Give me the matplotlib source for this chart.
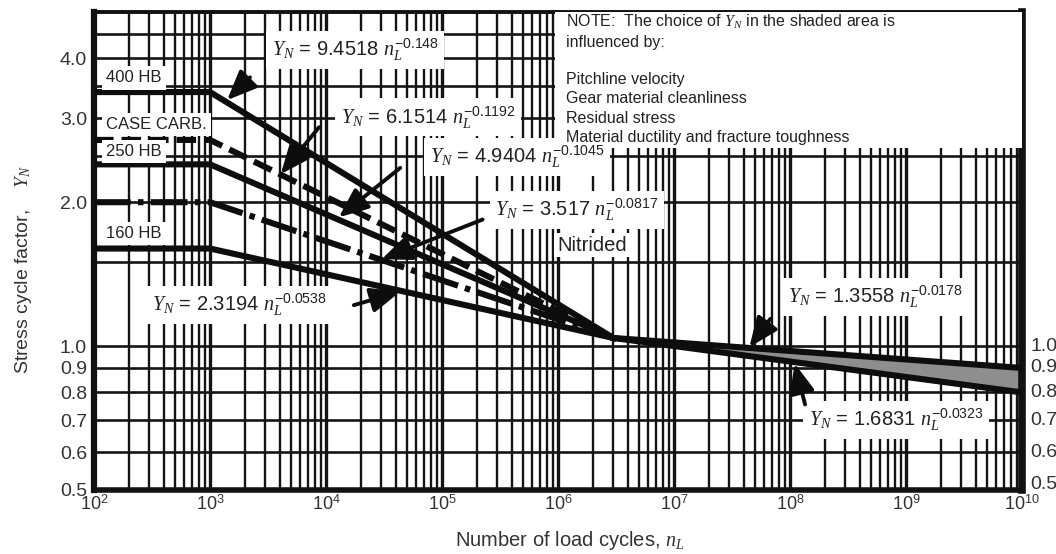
import matplotlib
matplotlib.use("Agg")
import matplotlib.pyplot as plt
import matplotlib.ticker as mticker
import matplotlib.transforms as mtransforms
from matplotlib.patches import Rectangle

plt.rcParams['font.family'] = ['Liberation Sans', 'DejaVu Sans']
plt.rcParams['mathtext.fontset'] = 'custom'
plt.rcParams['mathtext.rm'] = 'Liberation Sans'
plt.rcParams['mathtext.it'] = 'Liberation Serif:italic'
plt.rcParams['mathtext.bf'] = 'Liberation Sans:bold'

# ---------------- data ----------------
cycles = [1e2, 1e3, 3e6]
yn_400hb = [3.40, 3.40, 1.04]
yn_case_carb = [2.70, 2.70, 1.04]
yn_250hb = [2.40, 2.40, 1.04]
yn_nitrided = [2.00, 2.00, 1.04]
yn_160hb = [1.60, 1.60, 1.04]

tail_cycles = [3e6, 1e10]
tail_upper = [1.04, 0.90]
tail_lower = [1.04, 0.80]

material_labels = ['400 HB', 'CASE CARB.', '250 HB', '160 HB']
material_label_y = [3.64, 2.91, 2.55, 1.72]

equations = [
    r'$Y_N$ = 9.4518 $n_L^{-0.148}$',
    r'$Y_N$ = 6.1514 $n_L^{-0.1192}$',
    r'$Y_N$ = 4.9404 $n_L^{-0.1045}$',
    r'$Y_N$ = 3.517 $n_L^{-0.0817}$',
    r'$Y_N$ = 2.3194 $n_L^{-0.0538}$',
    r'$Y_N$ = 1.3558 $n_L^{-0.0178}$',
    r'$Y_N$ = 1.6831 $n_L^{-0.0323}$',
]

x_major_ticks = [1e2, 1e3, 1e4, 1e5, 1e6, 1e7, 1e8, 1e9, 1e10]
x_tick_labels = [r'$10^{2}$', r'$10^{3}$', r'$10^{4}$', r'$10^{5}$', r'$10^{6}$',
                 r'$10^{7}$', r'$10^{8}$', r'$10^{9}$', r'$10^{10}$']
y_major_ticks = [0.5, 0.6, 0.7, 0.8, 0.9, 1.0, 2.0, 3.0, 4.0]
y_minor_ticks = [1.5, 2.5, 3.5, 4.5]
right_ticks = [0.5, 0.6, 0.7, 0.8, 0.9, 1.0]

note_lines = [
    r'NOTE:  The choice of $Y_N$ in the shaded area is',
    'influenced by:',
    'Pitchline velocity',
    'Gear material cleanliness',
    'Residual stress',
    'Material ductility and fracture toughness',
]

# ---------------- figure ----------------
fig = plt.figure(figsize=(10.56, 5.54), dpi=100)
ax = fig.add_axes([94/1056, 64/554, 928/1056, 478/554])
ax.set_xscale('log')
ax.set_yscale('log')
ax.set_xlim(1e2, 1e10)
ax.set_ylim(0.5, 5.0)

gc = '#141414'
ax.xaxis.set_major_locator(mticker.FixedLocator(x_major_ticks))
ax.xaxis.set_major_formatter(mticker.FixedFormatter(x_tick_labels))
ax.xaxis.set_minor_locator(mticker.LogLocator(base=10, subs=range(2, 10), numticks=100))
ax.xaxis.set_minor_formatter(mticker.NullFormatter())
ax.yaxis.set_major_locator(mticker.FixedLocator(y_major_ticks))
ax.yaxis.set_major_formatter(mticker.FixedFormatter([f'{v:.1f}' for v in y_major_ticks]))
ax.yaxis.set_minor_locator(mticker.FixedLocator(y_minor_ticks))
ax.yaxis.set_minor_formatter(mticker.NullFormatter())
ax.set_axisbelow(True)
ax.grid(which='major', axis='x', color=gc, lw=2.4)
ax.grid(which='minor', axis='x', color=gc, lw=1.7)
ax.grid(which='both', axis='y', color=gc, lw=1.9)
ax.tick_params(axis='x', which='both', length=0, labelsize=13, labelcolor='#333333', pad=3)
ax.tick_params(axis='y', which='both', length=0, labelsize=14, labelcolor='#333333', pad=5)

for side, lw in [('left', 4.5), ('bottom', 4.0), ('right', 5.5), ('top', 2.8)]:
    ax.spines[side].set_linewidth(lw)
    ax.spines[side].set_color('#111111')

# shaded region
ax.fill_between(tail_cycles, tail_lower, tail_upper, color='#8e8e8e', lw=0, zorder=2)

lc = '#0d0d0d'
clw = 4.4
ax.plot(cycles, yn_400hb, color=lc, lw=clw, zorder=3)
ax.plot(cycles, yn_case_carb, color=lc, lw=clw, zorder=3, ls=(0, (3.2, 1.3)))
ax.plot(cycles, yn_250hb, color=lc, lw=clw, zorder=3)
ax.plot(cycles, yn_nitrided, color=lc, lw=clw, zorder=3, ls=(0, (6, 1.2, 0.9, 1.2)))
ax.plot(cycles, yn_160hb, color=lc, lw=clw, zorder=3)
ax.plot(tail_cycles, tail_upper, color=lc, lw=clw, zorder=3)
ax.plot(tail_cycles, tail_lower, color=lc, lw=clw, zorder=3)

# material labels
for lab, yv in zip(material_labels, material_label_y):
    ax.text(127, yv, lab, fontsize=12, color='#222222', ha='left', va='center', zorder=4,
            bbox=dict(fc='white', ec='none', pad=3))

# NOTE box
ax.add_patch(Rectangle((0.497, 0.7155), 0.503, 0.2845, transform=ax.transAxes,
                       fc='white', ec='none', zorder=4))
note_y = [0.979, 0.937, 0.858, 0.818, 0.778, 0.738]
for t, yy in zip(note_lines, note_y):
    ax.text(0.5086, yy, t, transform=ax.transAxes, fontsize=11.5, color='#222222',
            ha='left', va='center', zorder=5)

# equation labels (text centre positions in data coords)
eq_pos = [(10**4.25, 4.16), (10**4.879, 3.01), (10**5.647, 2.49), (10**6.164, 1.925),
          (10**3.25, 1.218), (10**8.733, 1.266), (10**8.914, 0.700)]
for t, (xx, yy) in zip(equations, eq_pos):
    ax.text(xx, yy, t, fontsize=14.5, color='#222222', ha='center', va='center', zorder=4,
            bbox=dict(fc='white', ec='none', pad=4))

ax.text(10**6.293, 1.627, 'Nitrided', fontsize=14.5, color='#222222', ha='center', va='center',
        zorder=4, bbox=dict(fc='white', ec='none', pad=2))

# arrows: (tail, tip) in data coords
arrows = [((10**3.345, 3.65), (10**3.147, 3.27)),
          ((10**3.94, 2.87), (10**3.61, 2.29)),
          ((10**4.64, 2.36), (10**4.11, 1.86)),
          ((10**5.35, 1.84), (10**4.48, 1.52)),
          ((10**4.24, 1.218), (10**4.64, 1.30)),
          ((10**7.83, 1.14), (10**7.65, 0.995)),
          ((10**8.13, 0.755), (10**8.04, 0.92))]
for (tail, tip) in arrows:
    ax.annotate('', xy=tip, xytext=tail, zorder=6,
                arrowprops=dict(arrowstyle='-|>,head_length=0.9,head_width=0.38', lw=2.8,
                                color='#0d0d0d', shrinkA=0, shrinkB=0, mutation_scale=20))

# right-side tick labels
trans = mtransforms.blended_transform_factory(ax.transAxes, ax.transData)
for v in right_ticks:
    ax.text(1.009, v * (1.025 if v == 0.5 else 1.0), f'{v:.1f}', transform=trans, fontsize=14,
            color='#333333', ha='left', va='center', clip_on=False)

fig.text(24/1056, 1 - 270/554, r'Stress cycle factor,    $Y_N$', rotation=90, fontsize=14,
         color='#333333', ha='center', va='center')
fig.text(570/1056, 1 - 540/554, r'Number of load cycles, $n_L$', fontsize=14.5,
         color='#333333', ha='center', va='center')

fig.savefig('out.png', dpi=100)
